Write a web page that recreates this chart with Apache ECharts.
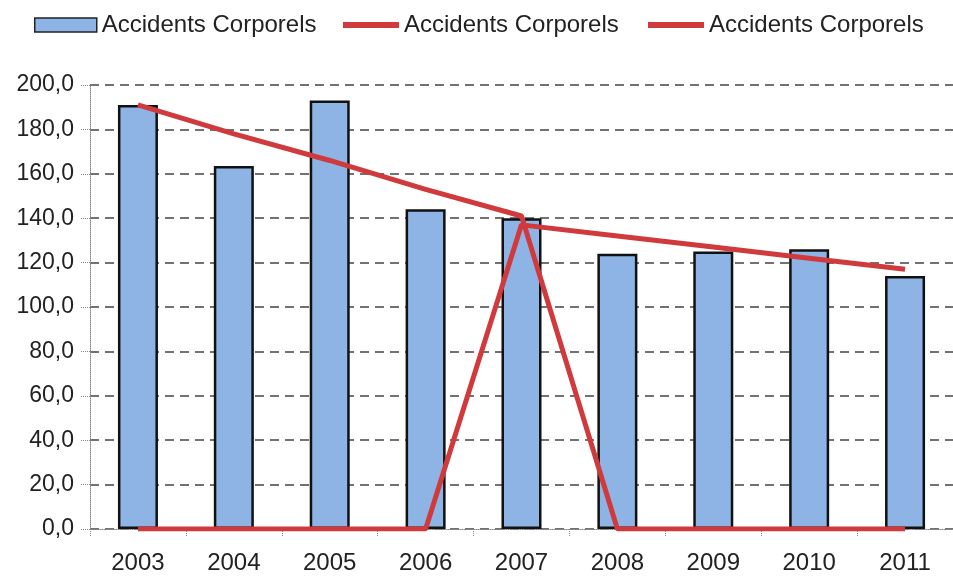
<!DOCTYPE html>
<html>
<head>
<meta charset="utf-8">
<script src="https://cdn.jsdelivr.net/npm/echarts@6/dist/echarts.min.js"></script>
<style>
  html, body { margin: 0; padding: 0; background: #fff; }
  #chart { width: 953px; height: 580px; }
</style>
</head>
<body>
<div id="chart"></div>
<script>
// Années
const years = ['2003', '2004', '2005', '2006', '2007', '2008', '2009', '2010', '2011'];
// Accidents corporels par an
const accidents = [191, 163.5, 193, 144, 140, 124, 125, 126, 114];
// Tendance sur 2003-2007 (nulle ensuite)
const trendFirst = [191, 178, 166, 153, 141, 0, 0, 0, 0];
// Tendance sur 2007-2011 (nulle avant)
const trendSecond = [0, 0, 0, 0, 137, 132, 127, 122, 117];
// Graduations de l'axe vertical
const yTicks = { min: 0, max: 200, step: 20 };

const label = 'Accidents Corporels';
const red = '#d03a3c';
const font = 'Liberation Sans, Arial, sans-serif';

const chart = echarts.init(document.getElementById('chart'), null, { renderer: 'canvas' });

const legendText = { fontSize: 24, color: '#222', fontFamily: font };

chart.setOption({
  animation: false,
  backgroundColor: '#fff',
  legend: [
    {
      left: 29, top: 8,
      data: ['Barres'],
      icon: 'rect',
      itemWidth: 62, itemHeight: 14, itemGap: 6,
      formatter: () => label,
      textStyle: legendText,
      itemStyle: { borderColor: '#222', borderWidth: 1.5 }
    },
    {
      left: 338, top: 8,
      data: ['Tendance 2003-2007'],
      icon: 'rect',
      itemWidth: 56, itemHeight: 6,
      formatter: () => label,
      textStyle: legendText
    },
    {
      left: 643, top: 8,
      data: ['Tendance 2007-2011'],
      icon: 'rect',
      itemWidth: 56, itemHeight: 6,
      formatter: () => label,
      textStyle: legendText
    }
  ],
  grid: { left: 90, right: 0, top: 85, bottom: 51, containLabel: false },
  xAxis: {
    type: 'category',
    data: years,
    axisLine: { show: true, lineStyle: { color: '#888', type: 'dotted', width: 1 } },
    axisTick: { show: true, length: 8, lineStyle: { color: '#888', type: 'dotted' } },
    axisLabel: { fontSize: 24, color: '#222', fontFamily: font, margin: 22 },
    splitLine: { show: false }
  },
  yAxis: {
    type: 'value',
    min: yTicks.min, max: yTicks.max, interval: yTicks.step,
    axisLine: { show: true, lineStyle: { color: '#888', type: 'dotted', width: 1 } },
    axisTick: { show: true, length: 10, lineStyle: { color: '#888', type: 'dotted' } },
    axisLabel: {
      fontSize: 23, color: '#222', fontFamily: font, margin: 16,
      formatter: v => v.toFixed(1).replace('.', ',')
    },
    splitLine: { show: true, lineStyle: { color: '#444', type: [9, 6], width: 1.5 } }
  },
  series: [
    {
      name: 'Barres',
      type: 'bar',
      data: accidents,
      barWidth: 40,
      itemStyle: { color: '#8db4e4', borderColor: '#111', borderWidth: 2.5 },
      z: 2
    },
    {
      name: 'Tendance 2003-2007',
      type: 'line',
      data: trendFirst,
      symbol: 'none',
      lineStyle: { color: red, width: 5 },
      itemStyle: { color: red },
      z: 3
    },
    {
      name: 'Tendance 2007-2011',
      type: 'line',
      data: trendSecond,
      symbol: 'none',
      lineStyle: { color: red, width: 5 },
      itemStyle: { color: red },
      z: 3
    }
  ]
});
</script>
</body>
</html>
